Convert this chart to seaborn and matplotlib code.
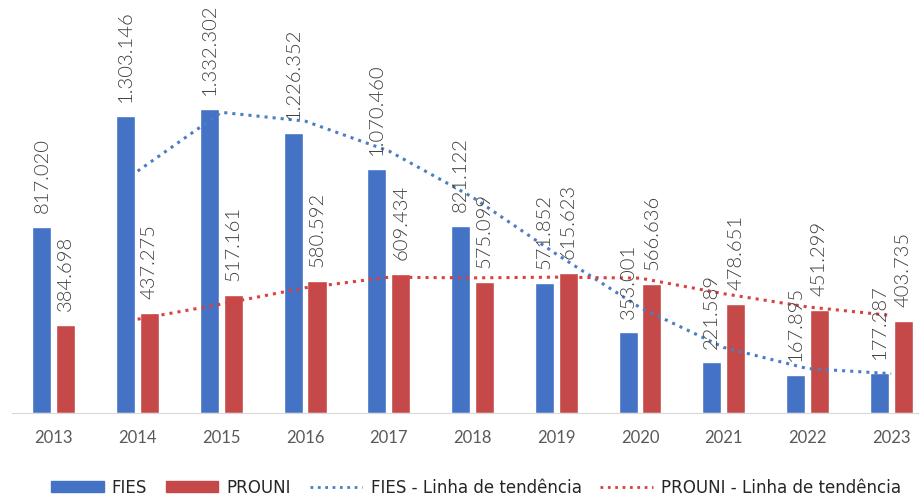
import pandas as pd
import numpy as np
import matplotlib.pyplot as plt
import seaborn as sns
from matplotlib.patches import Patch
from matplotlib.lines import Line2D

anos = ['2013', '2014', '2015', '2016', '2017', '2018', '2019', '2020', '2021', '2022', '2023']
fies = [817020, 1303146, 1332302, 1226352, 1070460, 821122, 571852, 353001, 221589, 167895, 177287]
prouni = [384698, 437275, 517161, 580592, 609434, 575099, 615623, 566636, 478651, 451299, 403735]

cor_fies = '#4472C4'
cor_prouni = '#C6494A'

df = pd.DataFrame({'ano': anos * 2,
                   'valor': fies + prouni,
                   'programa': ['FIES'] * len(anos) + ['PROUNI'] * len(anos)})

sns.set_style('white')
plt.rcParams['font.family'] = ['Lato', 'DejaVu Sans']

fig = plt.figure(figsize=(9.23, 5), dpi=100)
ax = fig.add_axes([12 / 923, 87 / 500, 906 / 923, 413 / 500])

sns.barplot(data=df, x='ano', y='valor', hue='programa', hue_order=['FIES', 'PROUNI'],
            palette=[cor_fies, cor_prouni], width=0.57, gap=0.2, saturation=1,
            ax=ax, legend=False)

# linha de tendencia = media movel de 2 periodos
pos = np.arange(len(anos))
media_fies = pd.Series(fies).rolling(2).mean()
media_prouni = pd.Series(prouni).rolling(2).mean()
sns.lineplot(x=pos, y=media_fies, color='#4A7EC4', linestyle=':', linewidth=2.2, ax=ax)
sns.lineplot(x=pos, y=media_prouni, color='#D9403F', linestyle=':', linewidth=2.2, ax=ax)

for cont, vals in zip(ax.containers, [fies, prouni]):
    rot = ['{:,}'.format(v).replace(',', '.') for v in vals]
    ax.bar_label(cont, labels=rot, rotation=90, padding=10, fontsize=14.5,
                 fontweight=300, color='#404040')

ax.set_xlim(-0.5, 10.32)
ax.set_ylim(0, 1332302 * 413 / 304)
ax.set_xlabel('')
ax.set_ylabel('')
ax.set_yticks([])
ax.tick_params(axis='x', length=0, labelsize=12, labelcolor='#595959', pad=12)
for s in ['top', 'left', 'right']:
    ax.spines[s].set_visible(False)
ax.spines['bottom'].set_color('#D9D9D9')

handles = [Patch(color=cor_fies), Patch(color=cor_prouni),
           Line2D([], [], color='#4A7EC4', linestyle=':', linewidth=2),
           Line2D([], [], color='#D9403F', linestyle=':', linewidth=2)]
labels = ['FIES', 'PROUNI', 'FIES - Linha de tendência', 'PROUNI - Linha de tendência']
fig.legend(handles, labels, loc='center', bbox_to_anchor=(476 / 923, 0.024), ncol=4,
           frameon=False, handlelength=2.85, handleheight=0.55, handletextpad=0.45,
           columnspacing=1.0,
           prop={'family': 'DejaVu Sans', 'stretch': 'condensed', 'size': 13.3})

fig.savefig('out.png', dpi=100)
